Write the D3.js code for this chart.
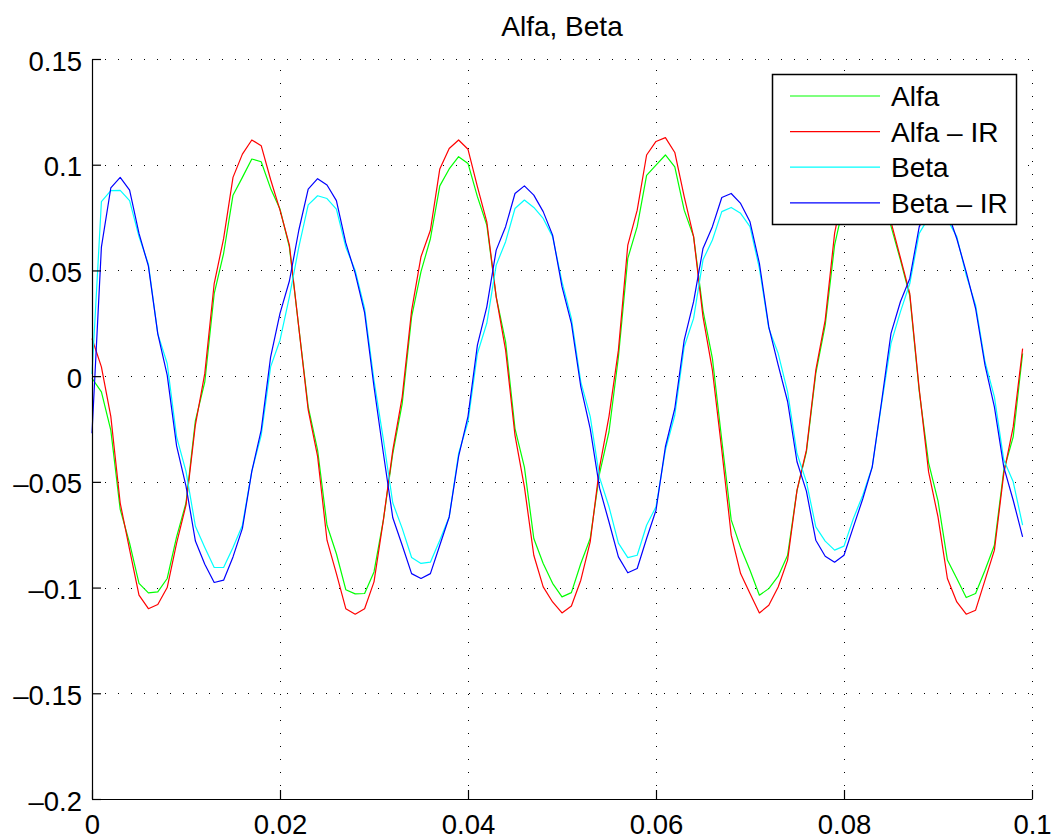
<!DOCTYPE html>
<html>
<head>
<meta charset="utf-8">
<script src="https://cdn.jsdelivr.net/npm/d3@7"></script>
<style>
  body { margin: 0; background: #fff; }
  #vis text { font-family: "Liberation Sans", Arial, Helvetica, sans-serif; fill: #000; }
</style>
</head>
<body>
<div id="vis"></div>
<script>
// Sample values, one every 0.001 s (100 samples, 0 .. 0.099)
const alfa = [
  -0.001, -0.0074, -0.0255, -0.063, -0.079, -0.098, -0.1025, -0.102, -0.0957, -0.076,
  -0.060, -0.021, -0.0027, 0.039, 0.058, 0.0856, 0.094, 0.1027, 0.1014, 0.0888,
  0.079, 0.061, 0.023, -0.0145, -0.035, -0.0705, -0.084, -0.101, -0.103, -0.1028,
  -0.0926, -0.068, -0.0366, -0.013, 0.028, 0.0494, 0.065, 0.090, 0.098, 0.1038,
  0.1006, 0.0849, 0.0715, 0.0375, 0.0162, -0.0248, -0.043, -0.0768, -0.0886, -0.098,
  -0.1044, -0.1024, -0.0886, -0.0768, -0.046, -0.0263, 0.009, 0.0557, 0.0707, 0.095,
  0.0998, 0.1046, 0.099, 0.0785, 0.066, 0.031, 0.0084, -0.0303, -0.068, -0.081,
  -0.0918, -0.1036, -0.1005, -0.0946, -0.0847, -0.054, -0.0358, 0.0013, 0.0241, 0.062,
  0.082, 0.097, 0.104, 0.101, 0.088, 0.071, 0.055, 0.038, -0.007, -0.041,
  -0.059, -0.087, -0.0957, -0.1047, -0.1028, -0.0918, -0.080, -0.0445, -0.0287, 0.0107
];
const alfaIR = [
  0.0178, 0.0044, -0.019, -0.060, -0.082, -0.1036, -0.110, -0.108, -0.100, -0.079,
  -0.061, -0.023, 0.0013, 0.0438, 0.065, 0.094, 0.105, 0.1117, 0.109, 0.093,
  0.0785, 0.062, 0.023, -0.016, -0.038, -0.0776, -0.0934, -0.110, -0.1126, -0.110,
  -0.0973, -0.068, -0.035, -0.0098, 0.031, 0.0565, 0.069, 0.098, 0.1077, 0.1117,
  0.1073, 0.0896, 0.073, 0.0375, 0.0123, -0.028, -0.0524, -0.0847, -0.0997, -0.1068,
  -0.112, -0.1087, -0.0965, -0.0784, -0.043, -0.019, 0.0123, 0.062, 0.0785, 0.1046,
  0.111, 0.1128, 0.1058, 0.0849, 0.066, 0.028, 0.0028, -0.035, -0.0752, -0.0934,
  -0.1028, -0.112, -0.1084, -0.0997, -0.087, -0.054, -0.035, 0.0028, 0.0265, 0.0675,
  0.090, 0.106, 0.112, 0.108, 0.094, 0.073, 0.056, 0.039, -0.006, -0.0453,
  -0.0666, -0.0957, -0.1068, -0.1126, -0.1107, -0.0965, -0.0823, -0.046, -0.024, 0.013
];
const beta = [
  0.001, 0.0825, 0.0877, 0.0879, 0.083, 0.066, 0.053, 0.020, 0.006, -0.0287,
  -0.045, -0.071, -0.081, -0.0905, -0.0905, -0.081, -0.0705, -0.045, -0.028, 0.0044,
  0.017, 0.0375, 0.061, 0.081, 0.0853, 0.084, 0.079, 0.061, 0.050, 0.032,
  -0.002, -0.030, -0.060, -0.072, -0.0858, -0.0886, -0.088, -0.0776, -0.0666, -0.0366,
  -0.0216, 0.0107, 0.025, 0.0525, 0.0636, 0.0793, 0.0833, 0.0798, 0.0746, 0.066,
  0.0446, 0.0273, -0.0027, -0.019, -0.048, -0.0618, -0.079, -0.0858, -0.0847, -0.0705,
  -0.0618, -0.035, -0.0185, 0.0139, 0.0273, 0.055, 0.0644, 0.0778, 0.0798, 0.077,
  0.0707, 0.051, 0.0226, 0.0107, -0.0074, -0.0366, -0.050, -0.0713, -0.078, -0.0823,
  -0.0804, -0.0673, -0.0563, -0.043, -0.013, 0.0155, 0.0304, 0.0438, 0.0675, 0.075,
  0.077, 0.074, 0.066, 0.0478, 0.0336, 0.0068, -0.0098, -0.0397, -0.050, -0.0705
];
const betaIR = [
  -0.027, 0.061, 0.089, 0.094, 0.088, 0.0675, 0.052, 0.020, 0.0005, -0.033,
  -0.052, -0.078, -0.089, -0.0976, -0.0965, -0.0855, -0.072, -0.045, -0.0255, 0.009,
  0.0297, 0.045, 0.069, 0.0885, 0.0934, 0.0904, 0.083, 0.063, 0.0486, 0.030,
  -0.005, -0.0366, -0.067, -0.080, -0.0934, -0.0957, -0.0934, -0.080, -0.0666, -0.038,
  -0.019, 0.0147, 0.0328, 0.0596, 0.0707, 0.0864, 0.090, 0.0856, 0.0778, 0.0667,
  0.0423, 0.025, -0.005, -0.0248, -0.053, -0.069, -0.0855, -0.093, -0.091, -0.0768,
  -0.0634, -0.0334, -0.0153, 0.017, 0.0352, 0.0604, 0.0707, 0.0845, 0.0864, 0.0817,
  0.073, 0.0533, 0.0233, 0.0052, -0.012, -0.0405, -0.0544, -0.0776, -0.0852, -0.088,
  -0.0847, -0.0713, -0.058, -0.043, -0.012, 0.0202, 0.0352, 0.0462, 0.0706, 0.080,
  0.082, 0.078, 0.065, 0.0493, 0.032, 0.0052, -0.0145, -0.043, -0.0587, -0.076
];

// Series names and their (MATLAB default) colours
const seriesNames = ['Alfa', 'Alfa \u2013 IR', 'Beta', 'Beta \u2013 IR'];
const seriesColors = ['#00ff00', '#ff0000', '#00ffff', '#0000ff'];
const seriesValues = [alfa, alfaIR, beta, betaIR];

// Ticks and their labels (MATLAB writes the minus as an en dash)
const xTicks = [0, 0.02, 0.04, 0.06, 0.08, 0.1];
const xTickLabels = ['0', '0.02', '0.04', '0.06', '0.08', '0.1'];
const yTicks = [-0.2, -0.15, -0.1, -0.05, 0, 0.05, 0.1, 0.15];
const yTickLabels = ['\u20130.2', '\u20130.15', '\u20130.1', '\u20130.05', '0', '0.05', '0.1', '0.15'];

const sampleStep = 0.001;
const time = d3.range(alfa.length).map(i => i * sampleStep);

const margin = {top: 59, right: 19, bottom: 40, left: 92};
const width = 1051 - margin.left - margin.right;   // 940
const height = 839 - margin.top - margin.bottom;   // 740
const tickFontSize = 27.5;
const textFontSize = 28;   // title and legend

const svg = d3.select('#vis')
    .append('svg')
    .attr('width', width + margin.left + margin.right)
    .attr('height', height + margin.top + margin.bottom)
    .append('g')
    .attr('transform', `translate(${margin.left},${margin.top})`);

const xScale = d3.scaleLinear()
    .domain([0, 0.1])
    .range([0, width]);

const yScale = d3.scaleLinear()
    .domain([-0.2, 0.15])
    .range([height, 0]);

// half pixel offsets keep the 1px lines sharp
const crisp = v => Math.round(v) + 0.5;

// Dotted grid, also on the top and right edge (there is no box)
const grid = svg.append('g').attr('class', 'grid');
grid.selectAll('line.h')
    .data(yTicks.filter(d => d !== -0.2))
    .enter()
    .append('line')
    .attr('class', 'h')
    .attr('x1', 0)
    .attr('x2', width)
    .attr('y1', d => crisp(yScale(d)))
    .attr('y2', d => crisp(yScale(d)));
grid.selectAll('line.v')
    .data(xTicks.filter(d => d !== 0))
    .enter()
    .append('line')
    .attr('class', 'v')
    .attr('x1', d => crisp(xScale(d)))
    .attr('x2', d => crisp(xScale(d)))
    .attr('y1', height)
    .attr('y2', 0);
grid.selectAll('line')
    .attr('stroke', '#000')
    .attr('stroke-width', 1)
    .attr('stroke-dasharray', '1 12');

// Curves
const line = d3.line()
    .x((d, i) => xScale(time[i]))
    .y(d => yScale(d));

svg.append('g')
    .attr('class', 'curves')
    .selectAll('path')
    .data(seriesValues)
    .enter()
    .append('path')
    .attr('d', d => line(d))
    .attr('fill', 'none')
    .attr('stroke', (d, i) => seriesColors[i])
    .attr('stroke-width', 1.2)
    .attr('stroke-linejoin', 'round');

// Axes: only left and bottom, ticks pointing inward
const xAxis = d3.axisBottom(xScale)
    .tickValues(xTicks)
    .tickFormat((d, i) => xTickLabels[i])
    .tickSizeInner(-9)
    .tickSizeOuter(0)
    .tickPadding(15);

const yAxis = d3.axisLeft(yScale)
    .tickValues(yTicks)
    .tickFormat((d, i) => yTickLabels[i])
    .tickSizeInner(-9)
    .tickSizeOuter(0)
    .tickPadding(10);

const gx = svg.append('g')
    .attr('transform', `translate(0,${height})`)
    .call(xAxis);

const gy = svg.append('g')
    .call(yAxis);

gy.selectAll('.tick text').attr('dy', '0.4em');

[gx, gy].forEach(g => {
    g.attr('font-size', tickFontSize).attr('font-family', null);
    g.select('.domain').attr('stroke', '#000').attr('stroke-width', 1.2);
    g.selectAll('.tick line').attr('stroke', '#000').attr('stroke-width', 1.2);
});

// Title
svg.append('text')
    .attr('x', width / 2)
    .attr('y', 36 - margin.top)
    .attr('text-anchor', 'middle')
    .style('font-size', textFontSize + 'px')
    .text('Alfa, Beta');

// Legend box (opaque, top right)
const legend = svg.append('g')
    .attr('transform', `translate(${772 - margin.left},${74 - margin.top})`);

legend.append('rect')
    .attr('x', 0.5)
    .attr('y', 0.5)
    .attr('width', 244)
    .attr('height', 150)
    .attr('fill', '#fff')
    .attr('stroke', '#000')
    .attr('stroke-width', 1.5);

const rows = legend.selectAll('g.row')
    .data(seriesNames)
    .enter()
    .append('g')
    .attr('class', 'row')
    .attr('transform', (d, i) => `translate(0,${22 + i * 35.6})`);

rows.append('line')
    .attr('x1', 18)
    .attr('x2', 108)
    .attr('y1', 0)
    .attr('y2', 0)
    .attr('stroke', (d, i) => seriesColors[i])
    .attr('stroke-width', 1.2);

rows.append('text')
    .attr('x', 119)
    .attr('y', 10)
    .style('font-size', textFontSize + 'px')
    .text(d => d);
</script>
</body>
</html>
